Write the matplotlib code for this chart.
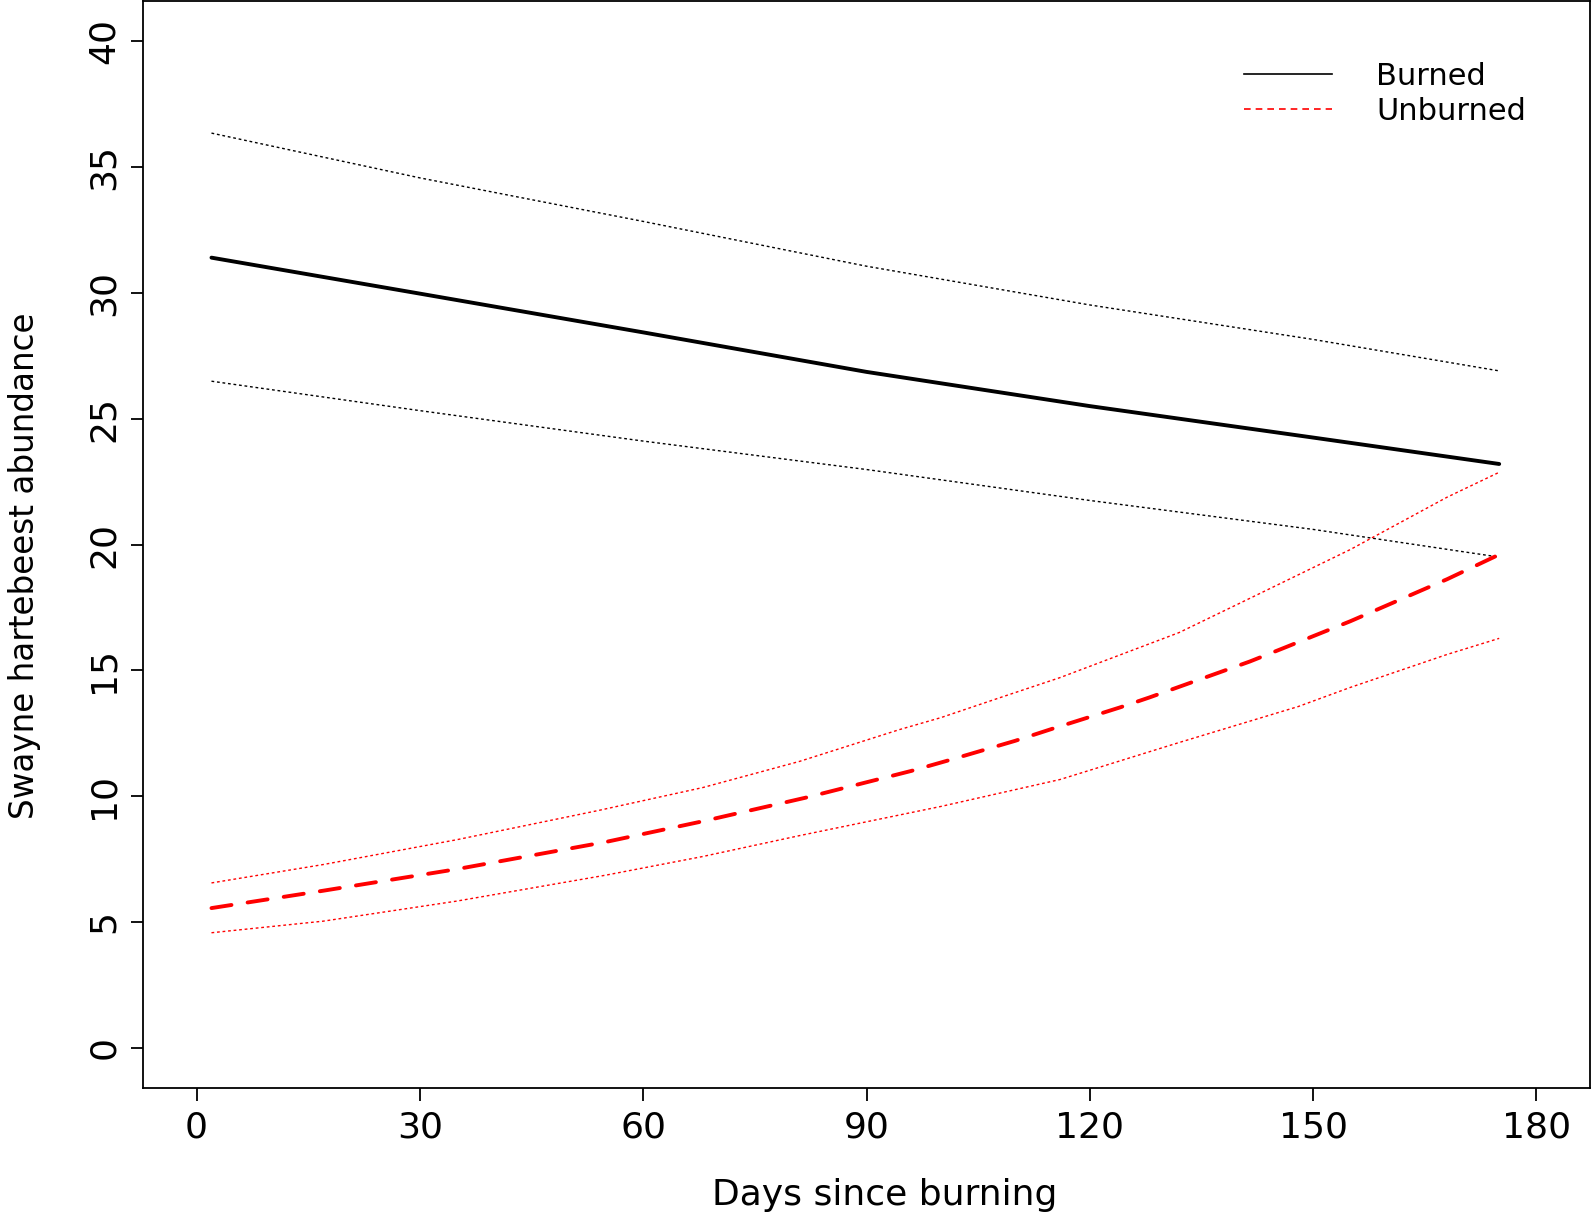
import matplotlib
matplotlib.use("Agg")
import matplotlib.pyplot as plt
from matplotlib.lines import Line2D

plt.rcParams['font.family'] = ['DejaVu Sans']

# Burned
burned_days = [2, 30, 60, 90, 120, 150, 175]
burned_mean = [31.40, 29.97, 28.43, 26.86, 25.50, 24.25, 23.20]
burned_upper = [36.35, 34.57, 32.84, 31.06, 29.52, 28.15, 26.90]
burned_lower = [26.49, 25.32, 24.11, 22.98, 21.75, 20.60, 19.50]

# Unburned
unb_mean_days = [2, 17, 35, 55, 68, 82, 96, 101, 110, 115, 124, 128, 141.5, 146, 155, 168, 175]
unb_mean = [5.55, 6.24, 7.10, 8.18, 9.00, 9.95, 11.00, 11.42, 12.20, 12.68, 13.52, 13.92,
            15.35, 15.88, 16.95, 18.62, 19.60]
unb_upper_days = [2, 17, 35, 54, 68, 81, 94.5, 100, 108, 116, 132, 141.5, 155, 168, 175]
unb_upper = [6.55, 7.28, 8.27, 9.43, 10.34, 11.38, 12.65, 13.12, 13.92, 14.71, 16.50, 17.86,
             19.80, 21.88, 22.87]
unb_lower_days = [2, 17, 35, 55, 68, 81, 100, 116, 132, 148, 155, 168, 175]
unb_lower = [4.57, 5.03, 5.83, 6.86, 7.60, 8.43, 9.59, 10.66, 12.13, 13.56, 14.32, 15.63, 16.27]

x_ticks = [0, 30, 60, 90, 120, 150, 180]
y_ticks = [0, 5, 10, 15, 20, 25, 30, 35, 40]
legend_labels = ["Burned", "Unburned"]

W, H = 1592, 1215
fig = plt.figure(figsize=(W / 100, H / 100), dpi=100)
ax = fig.add_axes([143 / W, 1 - 1088 / H, (1590 - 143) / W, (1088 - 1) / H])

dot = (0, (2, 2))
ax.plot(burned_days, burned_upper, color='black', lw=1.0, linestyle=dot)
ax.plot(burned_days, burned_lower, color='black', lw=1.0, linestyle=dot)
ax.plot(burned_days, burned_mean, color='black', lw=2.8, solid_capstyle='round',
        solid_joinstyle='round')

ax.plot(unb_upper_days, unb_upper, color='red', lw=1.0, linestyle=dot)
ax.plot(unb_lower_days, unb_lower, color='red', lw=1.0, linestyle=dot)
ax.plot(unb_mean_days, unb_mean, color='red', lw=2.8, linestyle=(0, (5.2, 4.2)),
        dash_capstyle='round')

ax.set_xlim(-7.2, 187.2)
ax.set_ylim(-1.6, 41.6)
ax.set_xticks(x_ticks)
ax.set_yticks(y_ticks)
ax.tick_params(axis='both', length=9, width=1.3, labelsize=26, direction='out')
ax.tick_params(axis='x', pad=7)
ax.tick_params(axis='y', pad=7)
for lab in ax.get_yticklabels():
    lab.set_rotation(90)
    lab.set_va('center')
for s in ax.spines.values():
    s.set_linewidth(1.3)

fig.text(885 / W, 1 - 1205 / H, "Days since burning", fontsize=26,
         ha='center', va='baseline')
fig.text(34 / W, 1 - 566 / H, "Swayne hartebeest abundance", fontsize=23.5,
         rotation=90, rotation_mode='anchor', ha='center', va='baseline')

handles = [Line2D([], [], color='black', lw=1.2),
           Line2D([], [], color='red', lw=1.2, linestyle=(0, (4, 3)))]
fig.legend(handles, legend_labels, frameon=False, fontsize=22, loc='upper left',
           bbox_to_anchor=(1244 / W, 1 - 62 / H), bbox_transform=fig.transFigure,
           handlelength=2.88, handletextpad=1.44, labelspacing=0.18,
           borderaxespad=0.0, borderpad=0.0)

fig.savefig("out.png", dpi=100)
